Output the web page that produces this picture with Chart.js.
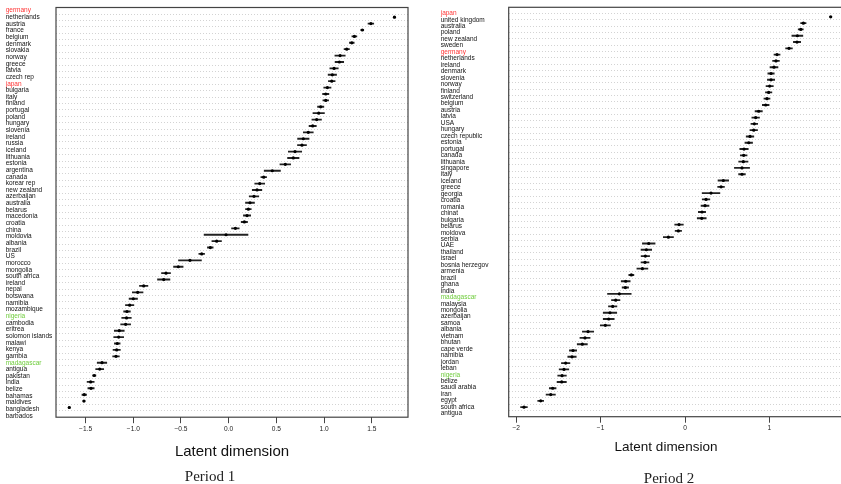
<!DOCTYPE html>
<html>
<head>
<meta charset="utf-8">
<script src="https://cdn.jsdelivr.net/npm/chart.js@4.4.1/dist/chart.umd.min.js"></script>
<style>
  html, body { margin: 0; padding: 0; background: #fff; width: 841px; height: 484px; overflow: hidden; }
  .panel { position: absolute; top: 0; height: 484px; }
  .txt { position: absolute; white-space: nowrap; transform: translateX(-50%); color: #111; }
  .sans { font-family: "Liberation Sans", Arial, sans-serif; }
  .serif { font-family: "Liberation Serif", "Times New Roman", serif; color: #222; }
</style>
</head>
<body>
<div class="panel" style="left:0;width:420px;"><canvas id="c1" width="420" height="484"></canvas></div>
<div class="panel" style="left:420px;width:430px;"><canvas id="c2" width="430" height="484"></canvas></div>
<div class="txt sans" style="left:232px;top:443px;font-size:15px;line-height:15px;">Latent dimension</div>
<div class="txt sans" style="left:666px;top:440px;font-size:13.5px;line-height:13.5px;">Latent dimension</div>
<div class="txt serif" style="left:210px;top:469px;font-size:15px;line-height:15px;">Period 1</div>
<div class="txt serif" style="left:669px;top:471px;font-size:15px;line-height:15px;">Period 2</div>
<script>
// ---------- Period 1 ----------
const labels1 = ["germany","netherlands","austria","france","belgium","denmark","slovakia","norway","greece","latvia",
  "czech rep","japan","bulgaria","italy","finland","portugal","poland","hungary","slovenia","ireland",
  "russia","iceland","lithuania","estonia","argentina","canada","korear rep","new zealand","azerbaijan","australia",
  "belarus","macedonia","croatia","china","moldovia","albania","brazil","US","morocco","mongolia",
  "south africa","ireland","nepal","botswana","namibia","mozambique","nigeria","cambodia","eritrea","solomon islands",
  "malawi","kenya","gambia","madagascar","antigua","pakistan","india","belize","bahamas","maldives",
  "bangladesh","barbados"];
const values1 = [1.737,1.49,1.40,1.317,1.29,1.237,1.167,1.16,1.104,1.086,
  1.08,1.034,1.017,1.017,0.964,0.943,0.922,0.880,0.834,0.782,
  0.768,0.695,0.677,0.593,0.457,0.367,0.325,0.297,0.265,0.223,
  0.206,0.192,0.164,0.070,-0.028,-0.126,-0.193,-0.283,-0.406,-0.528,
  -0.657,-0.681,-0.891,-0.954,-1.0,-1.038,-1.066,-1.071,-1.08,-1.147,
  -1.153,-1.168,-1.174,-1.181,-1.328,-1.352,-1.409,-1.447,-1.443,-1.514,
  -1.517,-1.671];
const errors1 = [0.01,0.03,0.015,0.026,0.025,0.028,0.054,0.045,0.044,0.044,
  0.035,0.038,0.033,0.03,0.033,0.06,0.05,0.038,0.052,0.06,
  0.047,0.07,0.06,0.056,0.085,0.03,0.052,0.05,0.05,0.047,
  0.03,0.038,0.033,0.04,0.23,0.05,0.03,0.03,0.12,0.05,
  0.047,0.065,0.044,0.056,0.044,0.044,0.035,0.05,0.052,0.052,
  0.052,0.03,0.038,0.035,0.05,0.042,0.017,0.037,0.033,0.024,
  0.01,0.01];
const xTicks1 = [-1.5,-1,-0.5,0,0.5,1,1.5];
const xTickLabels1 = ["\u22121.5","\u22121.0","\u22120.5","0.0","0.5","1.0","1.5"];

// ---------- Period 2 ----------
const labels2 = ["japan","united kingdom","australia","poland","new zealand","sweden","germany","netherlands","ireland","denmark",
  "slovenia","norway","finland","switzerland","belgium","austria","latvia","USA","hungary","czech republic",
  "estonia","portugal","canada","lithuania","singapore","italy","iceland","greece","georgia","croatia",
  "romania","chinat","bulgaria","belarus","moldova","serbia","UAE","thailand","israel","bosnia herzegov",
  "armenia","brazil","ghana","india","madagascar","malaysia","mongolia","azerbaijan","samoa","albania",
  "vietnam","bhutan","cape verde","namibia","jordan","leban","nigeria","belize","saudi arabia","iran",
  "egypt","south africa","antigua"];
const values2 = [1.726,1.402,1.371,1.331,1.327,1.232,1.090,1.078,1.054,1.019,
  1.019,1.003,0.991,0.971,0.956,0.873,0.837,0.821,0.814,0.770,
  0.755,0.699,0.695,0.691,0.675,0.675,0.454,0.427,0.308,0.249,
  0.237,0.201,0.198,-0.071,-0.079,-0.197,-0.430,-0.458,-0.470,-0.474,
  -0.505,-0.636,-0.703,-0.707,-0.778,-0.821,-0.857,-0.889,-0.904,-0.944,
  -1.149,-1.185,-1.217,-1.327,-1.339,-1.414,-1.434,-1.457,-1.461,-1.568,
  -1.591,-1.710,-1.908];
const errors2 = [0.01,0.032,0.03,0.065,0.043,0.04,0.036,0.04,0.047,0.038,
  0.043,0.043,0.038,0.036,0.04,0.043,0.045,0.04,0.045,0.045,
  0.045,0.05,0.04,0.055,0.09,0.04,0.063,0.04,0.105,0.045,
  0.047,0.043,0.053,0.051,0.038,0.06,0.075,0.063,0.05,0.047,
  0.065,0.03,0.053,0.038,0.14,0.05,0.05,0.08,0.065,0.06,
  0.067,0.06,0.06,0.043,0.05,0.05,0.057,0.051,0.055,0.04,
  0.055,0.035,0.04];
const xTicks2 = [-2,-1,0,1];
const xTickLabels2 = ["\u22122","\u22121","0","1"];

const redNames = ["germany","japan"];
const greenNames = ["nigeria","madagascar"];

function labelColor(name) {
  if (redNames.includes(name)) return '#ff3535';
  if (greenNames.includes(name)) return '#6fcc3c';
  return '#111';
}

const framePlugin = {
  id: 'frame',
  afterDraw(chart) {
    const a = chart.chartArea, ctx = chart.ctx;
    ctx.save();
    ctx.strokeStyle = '#444';
    ctx.lineWidth = 1.2;
    ctx.strokeRect(a.left, a.top, a.right - a.left, a.bottom - a.top);
    ctx.restore();
  }
};

function makePanel(id, labels, values, errors, xTicks, xTickLabels, lay) {
  const n = values.length;
  new Chart(document.getElementById(id), {
    type: 'scatter',
    data: {
      datasets: [
        {
          type: 'bar',
          indexAxis: 'y',
          xAxisID: 'x', yAxisID: 'y',
          data: values.map((v, i) => ({ x: [v - errors[i], v + errors[i]], y: i + 1 })),
          backgroundColor: '#222',
          borderWidth: 0,
          barThickness: 1.2,
          order: 2
        },
        {
          type: 'scatter',
          xAxisID: 'x', yAxisID: 'y',
          data: values.map((v, i) => ({ x: v, y: i + 1 })),
          pointRadius: 1.6,
          pointBackgroundColor: '#000',
          pointBorderWidth: 0,
          order: 1
        }
      ]
    },
    options: {
      responsive: false,
      animation: false,
      events: [],
      layout: { padding: lay.padding },
      plugins: { legend: { display: false }, tooltip: { enabled: false } },
      scales: {
        x: {
          type: 'linear',
          position: 'bottom',
          min: lay.xMin, max: lay.xMax,
          afterBuildTicks: s => { s.ticks = xTicks.map(v => ({ value: v })); },
          afterFit: s => { s.height = lay.xAxisHeight; },
          ticks: {
            autoSkip: false,
            maxRotation: 0,
            padding: 2,
            color: '#222',
            font: { family: 'Liberation Sans', size: 6.6 },
            callback: (v, i) => xTickLabels[i]
          },
          grid: { drawOnChartArea: false, tickLength: 6, color: '#444', tickWidth: 1 },
          border: { display: false }
        },
        y: {
          type: 'linear',
          position: 'left',
          reverse: true,
          min: 0, max: n + 1,
          weight: 0,
          afterBuildTicks: s => { s.ticks = values.map((v, i) => ({ value: i + 1 })); },
          afterFit: s => { s.width = 0; },
          ticks: { display: false },
          grid: { drawTicks: false, color: '#c8c8c8', lineWidth: 0.8 },
          border: { display: false, dash: [1, 2] }
        },
        yl: {
          type: 'linear',
          position: 'left',
          reverse: true,
          min: lay.lMin, max: lay.lMax,
          weight: 10,
          afterBuildTicks: s => { s.ticks = labels.map((l, i) => ({ value: i + 1 })); },
          afterFit: s => { s.width = lay.labelWidth; },
          ticks: {
            autoSkip: false,
            crossAlign: 'far',
            padding: 0,
            font: { family: 'Liberation Sans', size: 6.5 },
            color: ctx => labelColor(labels[ctx.index]),
            callback: (v, i) => labels[i]
          },
          grid: { display: false },
          border: { display: false }
        }
      }
    },
    plugins: [framePlugin]
  });
}

makePanel('c1', labels1, values1, errors1, xTicks1, xTickLabels1, {
  padding: { left: 5.7, top: 7.5, right: 12, bottom: 0 },
  labelWidth: 50.3, xAxisHeight: 66.8,
  xMin: -1.810, xMax: 1.879,
  lMin: 0.519, lMax: 62.2
});
makePanel('c2', labels2, values2, errors2, xTicks2, xTickLabels2, {
  padding: { left: 20.7, top: 7.3, right: 6.3, bottom: 0 },
  labelWidth: 68, xAxisHeight: 67.3,
  xMin: -2.089, xMax: 1.88,
  lMin: 0.068, lMax: 63.5
});
</script>
</body>
</html>
